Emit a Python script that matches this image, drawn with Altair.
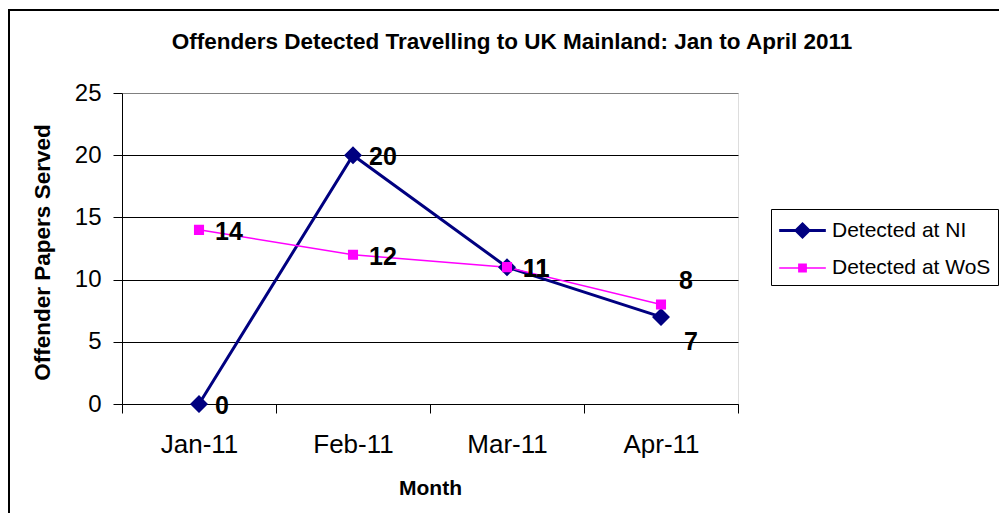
import altair as alt
import pandas as pd

months = ["Jan-11", "Feb-11", "Mar-11", "Apr-11"]
detected_ni = [0, 20, 11, 7]
detected_wos = [14, 12, 11, 8]
series_names = ["Detected at NI", "Detected at WoS"]
series_colors = ["#000080", "#FF00FF"]
series_widths = [3, 1.5]
y_ticks = [0, 5, 10, 15, 20, 25]

rows = []
for m, v in zip(months, detected_ni):
    rows.append({"month": m, "series": series_names[0], "value": v})
for m, v in zip(months, detected_wos):
    rows.append({"month": m, "series": series_names[1], "value": v})
df = pd.DataFrame(rows)

FONT = "Arial"
# marker shapes: a horizontal stroke (only visible in the legend) plus the marker
marker_paths = [
    "M-1.8,0H1.8M0,-0.5L0.5,0L0,0.5L-0.5,0Z",
    "M-1.8,0H1.8M-0.28,-0.28H0.28V0.28H-0.28Z",
]

legend = alt.Legend(
    title=None, orient="none", legendX=649, legendY=116,
    strokeColor="black", fillColor="white", padding=7,
    symbolSize=672, symbolOffset=10, labelOffset=15,
    labelFontSize=21, labelFont=FONT, labelColor="black",
    rowPadding=11, labelLimit=400,
)

x_enc = alt.X(
    "month:N", sort=months,
    scale=alt.Scale(type="band", paddingInner=0, paddingOuter=0),
    axis=alt.Axis(
        title="Month", tickBand="extent", labelAngle=0, grid=False,
        labelFontSize=26, labelFont=FONT, labelColor="black", labelPadding=18,
        tickSize=9, tickColor="black", domainColor="black",
        titleFontSize=21, titleFont=FONT, titleFontWeight="bold", titleColor="black",
        titleY=84, titleBaseline="middle",
    ),
)
y_enc = alt.Y(
    "value:Q",
    scale=alt.Scale(domain=[0, 25], nice=False),
    axis=alt.Axis(
        values=y_ticks, title="Offender Papers Served",
        labelFontSize=24, labelFont=FONT, labelColor="black", labelPadding=12,
        tickSize=9, tickColor="black", domainColor="black",
        grid=True, gridColor={"condition": {"test": "datum.value === 25", "value": "#808080"}, "value": "black"},
        gridWidth=1,
        titleFontSize=22.5, titleFont=FONT, titleFontWeight="bold", titleColor="black",
        titleX=-80, titleY=159, titleAngle=270, titleBaseline="middle", titleAlign="center",
    ),
)
color_enc = alt.Color("series:N", scale=alt.Scale(domain=series_names, range=series_colors), legend=legend)

base = alt.Chart(df)

lines = base.mark_line().encode(
    x=x_enc, y=y_enc, color=color_enc,
    strokeWidth=alt.StrokeWidth("series:N", scale=alt.Scale(type="ordinal", domain=series_names, range=series_widths), legend=legend),
)
points = base.mark_point(filled=True, opacity=1, size=1296).encode(
    x=x_enc, y=y_enc, color=color_enc,
    shape=alt.Shape("series:N", scale=alt.Scale(domain=series_names, range=marker_paths), legend=legend),
)
text_style = dict(align="left", baseline="middle", fontSize=25, fontWeight="bold", font=FONT, color="black")
labels_main = base.mark_text(dx=16, dy=2, **text_style).encode(
    x=x_enc, y=y_enc, text=alt.Text("value:Q")
).transform_filter(alt.datum.month != months[3])
label_ni_last = base.mark_text(dx=23, dy=25, **text_style).encode(
    x=x_enc, y=y_enc, text=alt.Text("value:Q")
).transform_filter((alt.datum.month == months[3]) & (alt.datum.series == series_names[0]))
label_wos_last = base.mark_text(dx=18, dy=-23, **text_style).encode(
    x=x_enc, y=y_enc, text=alt.Text("value:Q")
).transform_filter((alt.datum.month == months[3]) & (alt.datum.series == series_names[1]))

frame_data = alt.Chart(pd.DataFrame({"k": [0]}))
frame_left = frame_data.mark_rule(color="black", strokeWidth=2).encode(
    x=alt.value(-113), y=alt.value(-84), y2=alt.value(420)
)
frame_top = frame_data.mark_rule(color="black", strokeWidth=2).encode(
    y=alt.value(-83), x=alt.value(-114), x2=alt.value(877)
)

chart = alt.layer(frame_left, frame_top, lines, points, labels_main, label_ni_last, label_wos_last).properties(
    width=616, height=311,
    title=alt.TitleParams(
        text="Offenders Detected Travelling to UK Mainland: Jan to April 2011",
        anchor="middle", frame="group", fontSize=22.5, fontWeight="bold", font=FONT, color="black",
        dx=82, offset=-45,
    ),
    autosize=alt.AutoSizeParams(type="none"),
    padding={"left": 114, "top": 85, "right": 261, "bottom": 109},
).configure_view(fill="#C0C0C0", stroke="#808080", strokeWidth=1).configure(background="white")

chart.save("out.html", embed_options={"renderer": "svg", "actions": False})
